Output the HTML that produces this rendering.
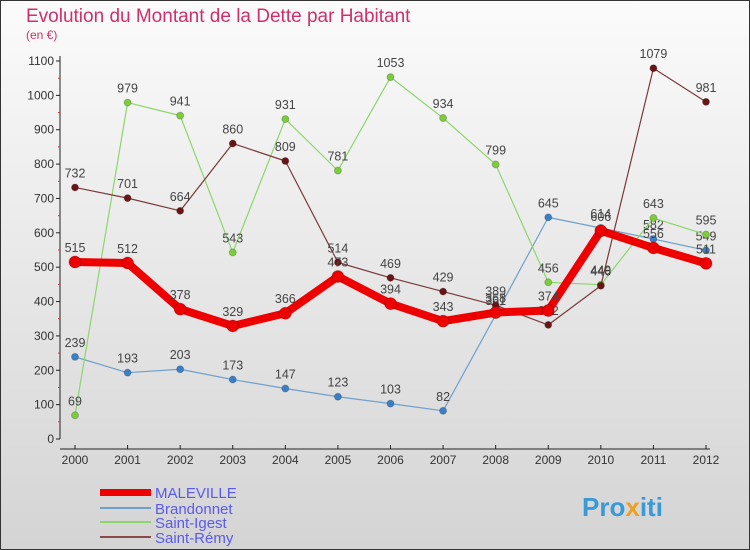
<!DOCTYPE html>
<html><head><meta charset="utf-8"><style>
body{margin:0;width:750px;height:550px;overflow:hidden}
svg{display:block;font-family:"Liberation Sans","DejaVu Sans",sans-serif}
</style></head><body>
<svg id="c" width="750" height="550">
<defs><linearGradient id="bg" x1="0" y1="0" x2="0" y2="1"><stop offset="0" stop-color="#fbfbfb"/><stop offset="1" stop-color="#d4d4d4"/></linearGradient></defs>
<rect x="0.5" y="0.5" width="749" height="549" fill="url(#bg)" stroke="#333"/>
<text x="26" y="22" font-size="19" fill="#d0306a">Evolution du Montant de la Dette par Habitant</text>
<text x="26" y="39" font-size="12" fill="#d0306a">(en €)</text>
<g id="axes"></g><g id="series"></g>
<g>
<rect x="100" y="489" width="51" height="7" fill="#e00"/>
<text x="155" y="498" font-size="15" fill="#5a5aee">MALEVILLE</text>
<rect x="100" y="507" width="51" height="2" fill="#6fa0cc"/>
<text x="155" y="514" font-size="15" fill="#5a5aee">Brandonnet</text>
<rect x="100" y="521" width="51" height="2" fill="#8cd66a"/>
<text x="155" y="528" font-size="15" fill="#5a5aee">Saint-Igest</text>
<rect x="100" y="536" width="51" height="2" fill="#8a4a4a"/>
<text x="155" y="543" font-size="15" fill="#5a5aee">Saint-Rémy</text>
</g>
<text x="582" y="516" font-size="26" font-weight="bold" fill="#3a9ad9">Pro<tspan fill="#f0a020">x</tspan>iti</text>
</svg>
<script>
const years=[2000,2001,2002,2003,2004,2005,2006,2007,2008,2009,2010,2011,2012];
const yTicks=[0,100,200,300,400,500,600,700,800,900,1000,1100];
const maleville=[515,512,378,329,366,473,394,343,368,374,606,556,511];
const brandonnet=[239,193,203,173,147,123,103,82,361,645,614,582,549];
const saintIgest=[69,979,941,543,931,781,1053,934,799,456,449,643,595];
const saintRemy=[732,701,664,860,809,514,469,429,389,332,446,1079,981];
const NS="http://www.w3.org/2000/svg";
const x=i=>75+i*(706-75)/(years.length-1);
const y=v=>439-v*(439-61)/1100;
function mk(t,a,p){const e=document.createElementNS(NS,t);for(const k in a)e.setAttribute(k,a[k]);p.appendChild(e);return e;}
const ax=document.getElementById('axes');
const yl=mk('line',{x1:60,y1:y(0),x2:60,y2:56,stroke:'#222'},ax);


const xl=mk('line',{x1:60,y1:449,x2:710,y2:449,stroke:'#222'},ax);


yTicks.forEach(v=>{
 mk('line',{x1:56,y1:y(v),x2:60,y2:y(v),stroke:'#222'},ax);
 if(v<1100) mk('line',{x1:58,y1:y(v+50),x2:60,y2:y(v+50),stroke:'#e33'},ax);
 const t=mk('text',{x:54,y:y(v)+4,'font-size':12,'text-anchor':'end',fill:'#333'},ax);t.textContent=v;
 
 
});
years.forEach((yr,i)=>{
 mk('line',{x1:x(i),y1:445,x2:x(i),y2:449,stroke:'#222'},ax);
 const t=mk('text',{x:x(i),y:464,'font-size':12,'text-anchor':'middle',fill:'#333'},ax);t.textContent=yr;
 
 
});
const sg=document.getElementById('series');
function draw(data,color,w,r,dot,name){
 const g=mk('g',{},sg);
 
 
 const pl=mk('polyline',{points:data.map((v,i)=>x(i)+','+y(v)).join(' '),fill:'none',stroke:color,'stroke-width':w,'stroke-linejoin':'round'},g);
 
 
 data.forEach((v,i)=>{
  const c=mk('circle',{cx:x(i),cy:y(v),r:r,fill:dot,stroke:'#0003'},g);
  
  
  const t=mk('text',{x:x(i),y:y(v)-10,'font-size':12.5,'text-anchor':'middle',fill:'#444'},g);t.textContent=v;
  
  
 });
}
draw(brandonnet,'#6fa0cc',1.2,3.5,'#3a80c8','brandonnet');
draw(saintIgest,'#8cd66a',1.2,3.5,'#7ccd3a','saint-igest');
draw(saintRemy,'#7a3a3a',1.2,3.5,'#6a1515','saint-remy');
draw(maleville,'#ee0000',8,6,'#ee0000','maleville');
</script>
</body></html>
